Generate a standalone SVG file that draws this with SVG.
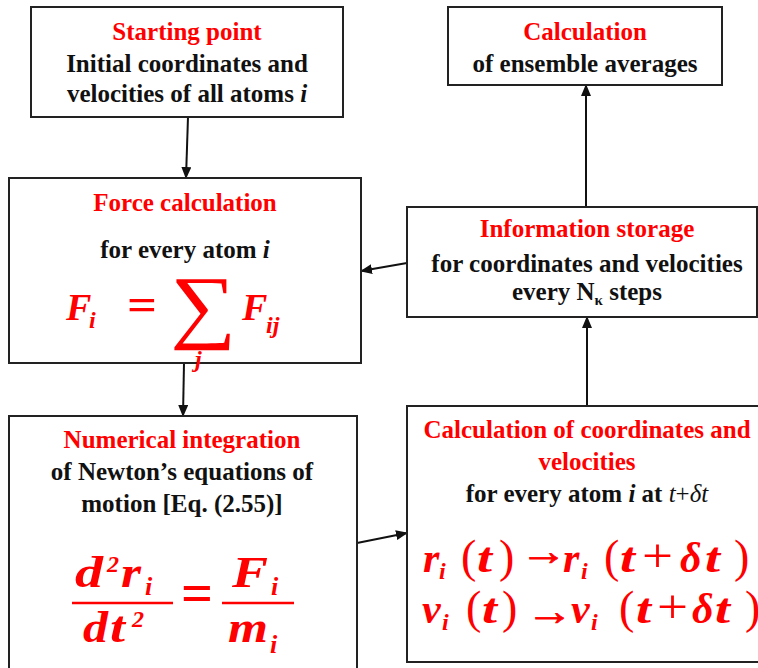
<svg xmlns="http://www.w3.org/2000/svg" width="758" height="668" viewBox="0 0 758 668">
<style>
.box{fill:#fff;stroke:#222;stroke-width:2}
.h{fill:#f00;text-anchor:middle}
.t{fill:#111;text-anchor:middle}
.m{fill:#f00}
.conn{stroke:#111;stroke-width:2;fill:none;marker-end:url(#ah)}
.fl{stroke:#f00;stroke-width:2.5}
</style>
<defs>
<marker id="ah" markerWidth="12" markerHeight="10" refX="11" refY="5" orient="auto" markerUnits="userSpaceOnUse">
<path d="M0,0 L12,5 L0,10 z" fill="#111"/>
</marker>
</defs>
<rect width="758" height="668" fill="#fff"/>
<g id="connectors">
<path class="conn" d="M188,117 L186,178"/>
<path class="conn" d="M184,363 L183,416"/>
<path class="conn" d="M407,263 L361,271"/>
<path class="conn" d="M357,543 L407,533"/>
<path class="conn" d="M587,406 L587,317"/>
<path class="conn" d="M586,207 L586,85"/>
</g>
<g id="start">
<rect class="box" x="31" y="7" width="312" height="110"/>
<text class="h" x="187" y="40" font-family="Liberation Serif" font-weight="bold" font-size="25">Starting point</text>
<text class="t" x="187" y="72" font-family="Liberation Serif" font-weight="bold" font-size="25">Initial coordinates and</text>
<text class="t" x="187" y="102" font-family="Liberation Serif" font-weight="bold" font-size="25">velocities of all atoms <tspan font-style="italic">i</tspan></text>
</g>
<g id="averages">
<rect class="box" x="448" y="7" width="274" height="78"/>
<text class="h" x="585" y="40" font-family="Liberation Serif" font-weight="bold" font-size="25">Calculation</text>
<text class="t" x="585" y="72" font-family="Liberation Serif" font-weight="bold" font-size="25">of ensemble averages</text>
</g>
<g id="force">
<rect class="box" x="9" y="178" width="352" height="185"/>
<text class="h" x="185" y="211" font-family="Liberation Serif" font-weight="bold" font-size="25">Force calculation</text>
<text class="t" x="185" y="258" font-family="Liberation Serif" font-weight="bold" font-size="25">for every atom <tspan font-style="italic">i</tspan></text>
<text class="m" x="66" y="320" font-family="Liberation Serif" font-weight="bold" font-style="italic" font-size="38">F</text>
<text class="m" x="89" y="328" font-family="Liberation Serif" font-weight="bold" font-style="italic" font-size="24">i</text>
<text class="m" x="127" y="320" font-family="Liberation Serif" font-weight="bold" font-size="46" textLength="30" lengthAdjust="spacingAndGlyphs">=</text>
<text class="m" x="170" y="333" font-family="Liberation Serif" font-size="82" textLength="66" lengthAdjust="spacingAndGlyphs">∑</text>
<text class="m" x="242" y="320" font-family="Liberation Serif" font-weight="bold" font-style="italic" font-size="38">F</text>
<text class="m" x="266" y="333" font-family="Liberation Serif" font-weight="bold" font-style="italic" font-size="24">ij</text>
<text class="m" x="195" y="367" font-family="Liberation Serif" font-weight="bold" font-style="italic" font-size="24">j</text>
</g>
<g id="storage">
<rect class="box" x="407" y="207" width="350" height="110"/>
<text class="h" x="587" y="237" font-family="Liberation Serif" font-weight="bold" font-size="25">Information storage</text>
<text class="t" x="587" y="272" font-family="Liberation Serif" font-weight="bold" font-size="25">for coordinates and velocities</text>
<text class="t" x="587" y="300" font-family="Liberation Serif" font-weight="bold" font-size="25">every N<tspan font-size="15" dy="5">κ</tspan><tspan dy="-5">  steps</tspan></text>
</g>
<g id="integration">
<rect class="box" x="9" y="416" width="348" height="262"/>
<text class="h" x="182" y="448" font-family="Liberation Serif" font-weight="bold" font-size="25">Numerical integration</text>
<text class="t" x="182" y="480" font-family="Liberation Serif" font-weight="bold" font-size="25">of Newton’s equations of</text>
<text class="t" x="182" y="512" font-family="Liberation Serif" font-weight="bold" font-size="25">motion [Eq. (2.55)]</text>
<text class="m" x="75" y="587" font-family="Liberation Serif" font-weight="bold" font-style="italic" font-size="44" textLength="28" lengthAdjust="spacingAndGlyphs">d</text>
<text class="m" x="107" y="572" font-family="Liberation Serif" font-weight="bold" font-style="italic" font-size="24">2</text>
<text class="m" x="121" y="587" font-family="Liberation Serif" font-weight="bold" font-style="italic" font-size="44" textLength="20" lengthAdjust="spacingAndGlyphs">r</text>
<text class="m" x="145" y="595" font-family="Liberation Serif" font-weight="bold" font-style="italic" font-size="26">i</text>
<line class="fl" x1="72" y1="603" x2="173" y2="603"/>
<text class="m" x="83" y="642" font-family="Liberation Serif" font-weight="bold" font-style="italic" font-size="44" textLength="25" lengthAdjust="spacingAndGlyphs">d</text>
<text class="m" x="110" y="642" font-family="Liberation Serif" font-weight="bold" font-style="italic" font-size="44" textLength="15" lengthAdjust="spacingAndGlyphs">t</text>
<text class="m" x="132" y="627" font-family="Liberation Serif" font-weight="bold" font-style="italic" font-size="24">2</text>
<text class="m" x="181" y="612" font-family="Liberation Serif" font-weight="bold" font-size="56" textLength="32" lengthAdjust="spacingAndGlyphs">=</text>
<text class="m" x="232" y="587" font-family="Liberation Serif" font-weight="bold" font-style="italic" font-size="44" textLength="36" lengthAdjust="spacingAndGlyphs">F</text>
<text class="m" x="271" y="595" font-family="Liberation Serif" font-weight="bold" font-style="italic" font-size="26">i</text>
<line class="fl" x1="222" y1="603" x2="294" y2="603"/>
<text class="m" x="228" y="642" font-family="Liberation Serif" font-weight="bold" font-style="italic" font-size="44" textLength="40" lengthAdjust="spacingAndGlyphs">m</text>
<text class="m" x="270" y="653" font-family="Liberation Serif" font-weight="bold" font-style="italic" font-size="26">i</text>
</g>
<g id="update">
<rect class="box" x="407" y="406" width="352" height="256"/>
<text class="h" x="587" y="438" font-family="Liberation Serif" font-weight="bold" font-size="25">Calculation of coordinates and</text>
<text class="h" x="587" y="470" font-family="Liberation Serif" font-weight="bold" font-size="25">velocities</text>
<text class="t" x="587" y="502" font-family="Liberation Serif" font-weight="bold" font-size="25">for every atom <tspan font-style="italic">i</tspan> at <tspan font-style="italic" font-weight="normal">t</tspan><tspan font-weight="normal">+</tspan><tspan font-style="italic" font-weight="normal">δt</tspan></text>
<text class="m" x="423" y="572" font-family="Liberation Serif" font-weight="bold" font-style="italic" font-size="42">r</text>
<text class="m" x="439" y="579" font-family="Liberation Serif" font-weight="bold" font-style="italic" font-size="24">i</text>
<text class="m" x="461" y="572" font-family="Liberation Serif" font-size="46">(</text>
<text class="m" x="477" y="572" font-family="Liberation Serif" font-weight="bold" font-style="italic" font-size="42" textLength="15" lengthAdjust="spacingAndGlyphs">t</text>
<text class="m" x="499" y="572" font-family="Liberation Serif" font-size="46">)</text>
<text class="m" x="520" y="565" font-family="Liberation Serif" font-weight="bold" font-size="40" textLength="47" lengthAdjust="spacingAndGlyphs" stroke="#f00" stroke-width="0.8">→</text>
<text class="m" x="563" y="572" font-family="Liberation Serif" font-weight="bold" font-style="italic" font-size="42">r</text>
<text class="m" x="581" y="579" font-family="Liberation Serif" font-weight="bold" font-style="italic" font-size="24">i</text>
<text class="m" x="604" y="572" font-family="Liberation Serif" font-size="46">(</text>
<text class="m" x="620" y="572" font-family="Liberation Serif" font-weight="bold" font-style="italic" font-size="42" textLength="15" lengthAdjust="spacingAndGlyphs">t</text>
<text class="m" x="642" y="572" font-family="Liberation Serif" font-size="48" textLength="31" lengthAdjust="spacingAndGlyphs">+</text>
<text class="m" x="680" y="572" font-family="Liberation Serif" font-weight="bold" font-style="italic" font-size="42">δ</text>
<text class="m" x="705" y="572" font-family="Liberation Serif" font-weight="bold" font-style="italic" font-size="42" textLength="15" lengthAdjust="spacingAndGlyphs">t</text>
<text class="m" x="734" y="572" font-family="Liberation Serif" font-size="46">)</text>
<text class="m" x="422" y="623" font-family="Liberation Serif" font-weight="bold" font-style="italic" font-size="42">v</text>
<text class="m" x="442" y="630" font-family="Liberation Serif" font-weight="bold" font-style="italic" font-size="24">i</text>
<text class="m" x="466" y="623" font-family="Liberation Serif" font-size="46">(</text>
<text class="m" x="482" y="623" font-family="Liberation Serif" font-weight="bold" font-style="italic" font-size="42" textLength="15" lengthAdjust="spacingAndGlyphs">t</text>
<text class="m" x="502" y="623" font-family="Liberation Serif" font-size="46">)</text>
<text class="m" x="526" y="625" font-family="Liberation Serif" font-weight="bold" font-size="40" textLength="47" lengthAdjust="spacingAndGlyphs" stroke="#f00" stroke-width="0.8">→</text>
<text class="m" x="571" y="623" font-family="Liberation Serif" font-weight="bold" font-style="italic" font-size="42">v</text>
<text class="m" x="591" y="630" font-family="Liberation Serif" font-weight="bold" font-style="italic" font-size="24">i</text>
<text class="m" x="619" y="623" font-family="Liberation Serif" font-size="46">(</text>
<text class="m" x="636" y="623" font-family="Liberation Serif" font-weight="bold" font-style="italic" font-size="42" textLength="15" lengthAdjust="spacingAndGlyphs">t</text>
<text class="m" x="657" y="623" font-family="Liberation Serif" font-size="48" textLength="31" lengthAdjust="spacingAndGlyphs">+</text>
<text class="m" x="692" y="623" font-family="Liberation Serif" font-weight="bold" font-style="italic" font-size="42">δ</text>
<text class="m" x="715" y="623" font-family="Liberation Serif" font-weight="bold" font-style="italic" font-size="42" textLength="15" lengthAdjust="spacingAndGlyphs">t</text>
<text class="m" x="745" y="623" font-family="Liberation Serif" font-size="46">)</text>
</g>
</svg>
